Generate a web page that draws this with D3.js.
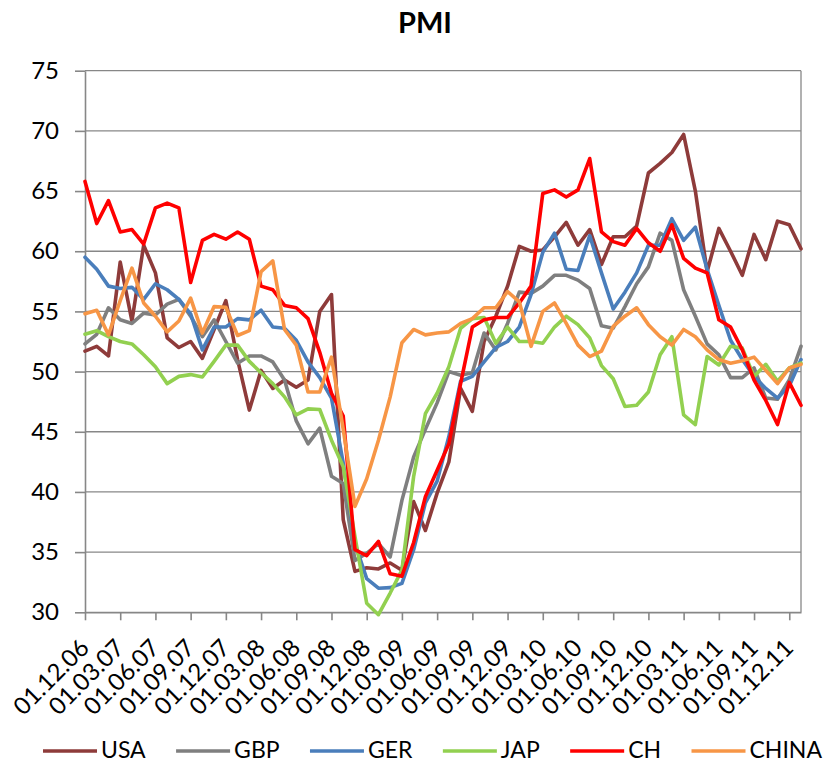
<!DOCTYPE html>
<html>
<head>
<meta charset="utf-8">
<script src="https://cdn.jsdelivr.net/npm/d3@7"></script>
<style>
  body { margin: 0; background: #fff; }
  svg text { font-family: Lato, "Liberation Sans", sans-serif; fill: #000; }
</style>
</head>
<body>
<div id="chart"></div>
<script>
// month-by-month PMI readings, Dec 2006 .. Jan 2012
const usa = [51.7, 52.1, 51.3, 59.1, 54.2, 60.5, 58.2, 52.8, 52.0, 52.5, 51.1, 53.5, 55.9, 51.0, 46.8, 50.1, 48.6, 49.3, 48.7, 49.3,
  55.0, 56.4, 37.7, 33.4, 33.7, 33.6, 34.1, 33.5, 39.2, 36.8, 39.9, 42.5, 48.6, 46.7, 52.5, 54.6, 57.1, 60.4, 60.0, 60.1,
  61.2, 62.4, 60.5, 61.8, 58.9, 61.2, 61.2, 62.1, 66.5, 67.3, 68.2, 69.7, 65.0, 58.3, 61.9, 60.0, 58.0, 61.4, 59.3, 62.5,
  62.2, 60.2];
const gbp = [52.3, 53.1, 55.3, 54.3, 54.0, 54.85, 54.7, 55.6, 56.0, 54.6, 52.9, 54.3, 52.5, 50.7, 51.3, 51.3, 50.8, 49.3, 45.9, 44.0,
  45.3, 41.3, 40.7, 34.3, 34.9, 35.7, 34.6, 39.3, 42.9, 45.2, 47.4, 50.0, 49.7, 49.9, 53.2, 51.8, 54.0, 56.6, 56.5, 57.1,
  58.0, 58.0, 57.6, 56.9, 53.8, 53.6, 55.4, 57.3, 58.7, 61.5, 60.9, 56.8, 54.6, 52.3, 51.4, 49.5, 49.5, 50.3, 47.8, 47.7,
  49.3, 52.1];
const ger = [59.5, 58.5, 57.1, 56.9, 57.0, 56.0, 57.3, 56.8, 56.0, 54.8, 51.8, 53.7, 53.7, 54.4, 54.3, 55.1, 53.7, 53.6, 52.6, 50.8,
  49.5, 47.8, 42.4, 35.7, 32.8, 32.0, 32.05, 32.4, 35.2, 39.1, 40.9, 44.6, 49.2, 49.6, 50.8, 52.0, 52.5, 53.7, 56.4, 59.9,
  61.5, 58.5, 58.4, 61.3, 58.2, 55.2, 56.6, 58.2, 60.5, 60.5, 62.7, 60.9, 62.0, 58.5, 55.5, 52.6, 51.0, 49.6, 48.6, 47.8,
  48.8, 51.0];
const jap = [53.1, 53.4, 52.9, 52.5, 52.3, 51.4, 50.4, 49.0, 49.6, 49.75, 49.55, 50.85, 52.2, 52.2, 50.85, 49.9, 49.0, 47.9, 46.4, 46.9,
  46.85, 44.3, 42.1, 36.3, 30.75, 29.8, 31.6, 33.5, 41.3, 46.5, 48.2, 50.4, 53.6, 54.4, 54.5, 52.35, 53.7, 52.5, 52.5, 52.35,
  53.7, 54.6, 53.9, 52.8, 50.5, 49.4, 47.1, 47.2, 48.3, 51.4, 52.9, 46.4, 45.6, 51.25, 50.55, 52.1, 51.95, 49.6, 50.6, 49.2,
  50.3, 50.7];
const ch = [65.8, 62.3, 64.2, 61.6, 61.8, 60.6, 63.6, 64.0, 63.6, 57.4, 60.9, 61.4, 61.0, 61.6, 61.0, 57.1, 56.8, 55.5, 55.3, 54.4,
  51.6, 48.2, 46.3, 35.2, 34.7, 35.9, 33.2, 33.0, 35.8, 39.6, 41.8, 44.0, 49.0, 53.7, 54.3, 54.5, 54.5, 55.7, 57.1, 64.8,
  65.1, 64.5, 65.1, 67.7, 61.6, 60.8, 60.5, 61.9, 60.7, 60.0, 62.2, 59.4, 58.6, 58.2, 54.3, 53.7, 51.8, 49.3, 47.6, 45.6,
  49.1, 47.2];
const china = [54.8, 55.1, 53.05, 55.9, 58.6, 55.7, 54.6, 53.3, 54.2, 56.1, 53.2, 55.4, 55.35, 53.0, 53.4, 58.3, 59.2, 53.5, 52.2, 48.3,
  48.3, 51.2, 45.2, 38.8, 41.1, 44.3, 47.9, 52.4, 53.5, 53.05, 53.2, 53.3, 54.0, 54.4, 55.3, 55.3, 56.65, 55.8, 52.1, 55.0,
  55.7, 54.0, 52.2, 51.25, 51.7, 53.75, 54.6, 55.3, 53.9, 52.9, 52.2, 53.5, 52.9, 51.8, 51.0, 50.7, 50.9, 51.2, 50.1, 49.0,
  50.3, 50.6];

const seriesNames = ["USA", "GBP", "GER", "JAP", "CH", "CHINA"];
const seriesValues = [usa, gbp, ger, jap, ch, china];
const seriesColors = ["#8e3b3a", "#7f7f7f", "#4a7ebb", "#92d050", "#ff0000", "#f79646"];

const tickLabels = ["01.12.06", "01.03.07", "01.06.07", "01.09.07", "01.12.07", "01.03.08", "01.06.08",
  "01.09.08", "01.12.08", "01.03.09", "01.06.09", "01.09.09", "01.12.09", "01.03.10", "01.06.10",
  "01.09.10", "01.12.10", "01.03.11", "01.06.11", "01.09.11", "01.12.11"];
const yTicks = [30, 35, 40, 45, 50, 55, 60, 65, 70, 75];

const width = 825, height = 763;
const plotLeft = 85, plotRight = 801, plotTop = 70.7, plotBottom = 612.3;
const gridColor = "#878787";

const svg = d3.select("#chart").append("svg")
  .attr("width", width).attr("height", height);

const x = d3.scaleLinear().domain([0, usa.length - 1]).range([plotLeft, plotRight]);
const y = d3.scaleLinear().domain([30, 75]).range([plotBottom, plotTop]);

// title
svg.append("text")
  .attr("x", 425).attr("y", 33)
  .attr("text-anchor", "middle")
  .style("font-size", "29px").style("font-weight", "bold")
  .text("PMI");

// horizontal gridlines
svg.append("g").selectAll("line")
  .data(yTicks)
  .enter().append("line")
  .attr("x1", plotLeft).attr("x2", plotRight)
  .attr("y1", d => y(d)).attr("y2", d => y(d))
  .attr("stroke", gridColor).attr("stroke-width", 1.3);

// right border of the plot
svg.append("line")
  .attr("x1", plotRight).attr("x2", plotRight).attr("y1", plotTop).attr("y2", plotBottom)
  .attr("stroke", gridColor).attr("stroke-width", 1.3);

// y axis
const yAxis = svg.append("g")
  .attr("transform", `translate(${plotLeft},0)`)
  .call(d3.axisLeft(y).tickValues(yTicks).tickSize(10).tickSizeOuter(0).tickPadding(16));
yAxis.selectAll("line, path").attr("stroke", gridColor).attr("stroke-width", 1.6);
yAxis.selectAll("text").style("font-size", "24px").style("font-family", "Lato, sans-serif").attr("fill", "#000");

// x axis
const xAxis = svg.append("g")
  .attr("transform", `translate(0,${plotBottom})`)
  .call(d3.axisBottom(x)
    .tickValues(d3.range(0, tickLabels.length * 3, 3))
    .tickFormat((d, i) => tickLabels[i])
    .tickSize(8).tickSizeOuter(0));
xAxis.selectAll("line, path").attr("stroke", gridColor).attr("stroke-width", 1.6);
xAxis.selectAll("text")
  .style("font-size", "24px").style("font-family", "Lato, sans-serif").attr("fill", "#000")
  .attr("x", 0).attr("y", 0).attr("dy", 0)
  .attr("text-anchor", "end")
  .attr("transform", "translate(5,37) rotate(-45)");

// series lines
const line = d3.line()
  .x((d, i) => x(i))
  .y(d => y(d));

svg.append("g").selectAll("path")
  .data(seriesValues)
  .enter().append("path")
  .attr("d", line)
  .attr("fill", "none")
  .attr("stroke", (d, i) => seriesColors[i])
  .attr("stroke-width", 3.6)
  .attr("stroke-linejoin", "round")
  .attr("stroke-linecap", "round");

// legend: spread items between x=43 and x=822
const legend = svg.append("g");
const items = seriesNames.map((name, i) => {
  const g = legend.append("g");
  g.append("line")
    .attr("x1", 0).attr("x2", 54).attr("y1", 751).attr("y2", 751)
    .attr("stroke", seriesColors[i]).attr("stroke-width", 3.6);
  const t = g.append("text")
    .attr("x", 58).attr("y", 757.5)
    .style("font-size", "23px")
    .text(name);
  return { g, w: 58 + t.node().getComputedTextLength() };
});
const gap = (822 - 43 - d3.sum(items, d => d.w)) / (items.length - 1);
let lx = 43;
items.forEach(d => {
  d.g.attr("transform", `translate(${lx},0)`);
  lx += d.w + gap;
});
</script>
</body>
</html>
